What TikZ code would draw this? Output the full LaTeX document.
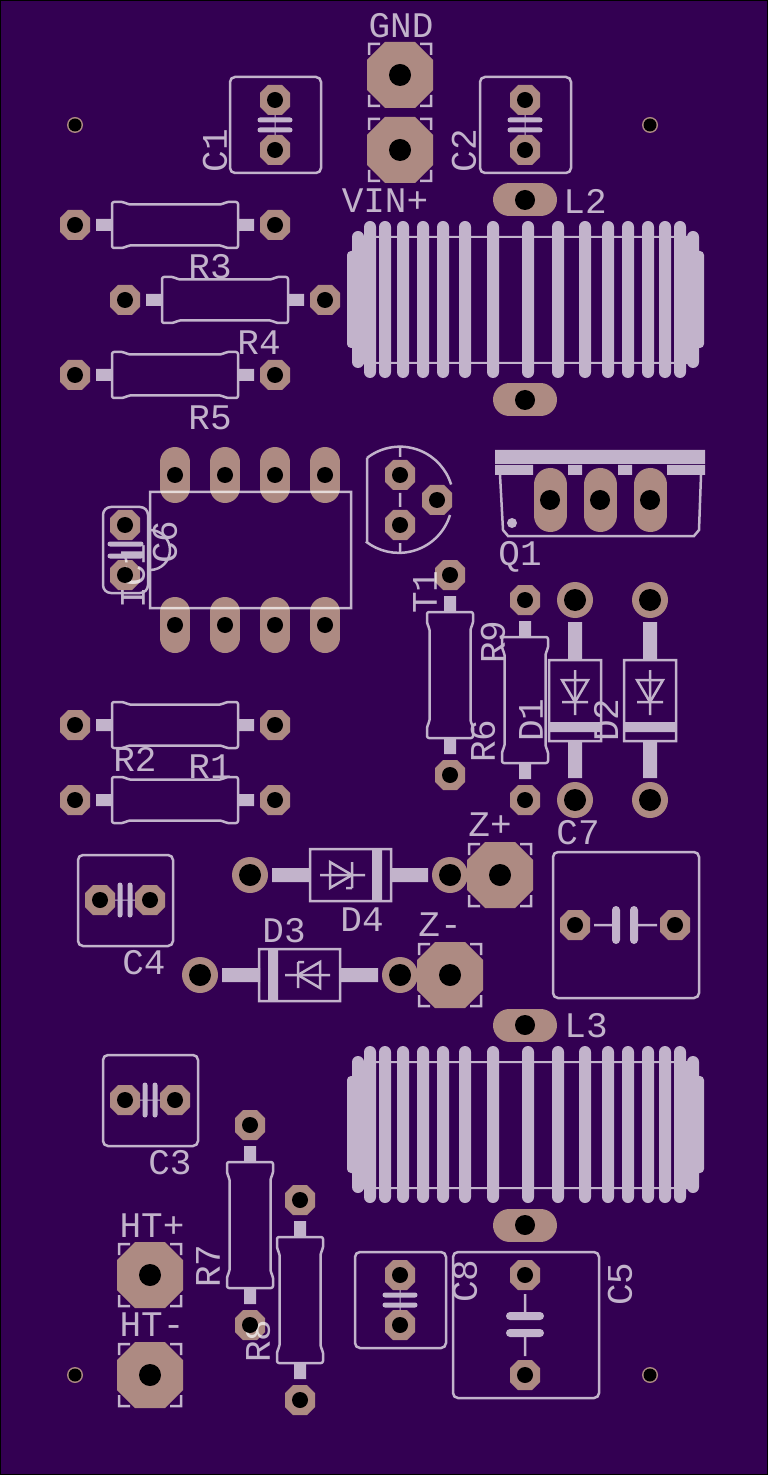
\documentclass[tikz,border=0pt]{standalone}
\usepackage{fontspec}
\setmainfont{Liberation Mono}
\definecolor{pcbboard}{HTML}{330052}
\definecolor{pcbcopper}{HTML}{AD8A82}
\pgfdeclarelayer{drill}
\pgfsetlayers{main,drill}
\tikzset{
  silk/.style={draw=white,line width=1.25pt},
  silkfill/.style={fill=white},
  lead/.style={fill=white},
  plate/.style={draw=white,line width=2.5pt,line cap=round},
  fatplate/.style={draw=white,line width=4pt,line cap=round},
  turn/.style={draw=white,line width=6pt,line cap=round},
  thinlead/.style={draw=white,line width=1.25pt},
  silklabel/.style={text=white,inner sep=0pt,font=\fontsize{18}{18}\selectfont},
  copper/.style={fill=pcbcopper},
  copperslot/.style={draw=pcbcopper,line cap=round},
  hole/.style={fill=black}
}
% pads: copper goes below the silk, the drill above it
\newcommand{\holeat}[3]{\begin{pgfonlayer}{drill}\path[hole] (#1,#2) circle (#3);\end{pgfonlayer}}
\newcommand{\smallpad}[2]{
  \path[copper,shift={(#1,#2)}] (-7,-15) -- (7,-15) -- (15,-7) -- (15,7) -- (7,15) -- (-7,15) -- (-15,7) -- (-15,-7) -- cycle;
  \holeat{#1}{#2}{8}}
\newcommand{\bigpad}[2]{
  \path[copper,shift={(#1,#2)}] (-15,-33) -- (15,-33) -- (33,-15) -- (33,15) -- (15,33) -- (-15,33) -- (-33,15) -- (-33,-15) -- cycle;
  \holeat{#1}{#2}{11}}
\newcommand{\ringpad}[2]{\path[copper] (#1,#2) circle (18); \holeat{#1}{#2}{11}}
\newcommand{\mountpad}[2]{\path[copper] (#1,#2) circle (8); \holeat{#1}{#2}{6.5}}
\newcommand{\icpad}[2]{\path[copperslot,line width=15pt] (#1,#2-13) -- (#1,#2+13); \holeat{#1}{#2}{8}}
\newcommand{\qpad}[2]{\path[copperslot,line width=16.5pt] (#1,#2-15.5) -- (#1,#2+15.5); \holeat{#1}{#2}{10}}
\newcommand{\coilpad}[2]{\path[copperslot,line width=16.5pt] (#1-15.5,#2) -- (#1+15.5,#2); \holeat{#1}{#2}{10}}
% silk parts
\newcommand{\capbox}[4]{\path[silk,rounded corners=2.5pt] (#1,#2) rectangle (#3,#4);}
\newcommand{\bracket}[2]{
  \begin{scope}[shift={(#1,#2)}]
    \path[silk] (-31,-20) -- (-31,-31) -- (-20,-31);
    \path[silk] (20,-31) -- (31,-31) -- (31,-20);
    \path[silk] (-31,20) -- (-31,31) -- (-20,31);
    \path[silk] (20,31) -- (31,31) -- (31,20);
  \end{scope}}
\newcommand{\resistor}[3]{
  \begin{scope}[shift={(#1,#2)},rotate=#3]
    \path[lead] (-79,-6) rectangle (-63,6);
    \path[lead] (63,-6) rectangle (79,6);
    \path[silk,line join=round,rounded corners=1pt] (-47,-20.5) -- (-51,-23) -- (-63,-23) -- (-63,23) -- (-51,23) -- (-47,20.5)
      -- (47,20.5) -- (51,23) -- (63,23) -- (63,-23) -- (51,-23) -- (47,-20.5) -- cycle;
  \end{scope}}
\newcommand{\diode}[3]{
  \begin{scope}[shift={(#1,#2)},rotate=#3]
    \path[lead] (-78,-7) rectangle (-40,7);
    \path[lead] (40,-7) rectangle (78,7);
    \path[silk] (-40,-26) rectangle (41,26);
    \path[silkfill] (22,-26) rectangle (32,26);
    \path[silk] (-30,0) -- (15,0);
    \path[silk] (-20,-13) -- (-20,13) -- (2,0) -- cycle;
    \path[silk] (2,-13) -- (2,13);
  \end{scope}}
\newcommand{\coil}[1]{
  \begin{scope}[shift={(0,#1)}]
    \path[silk,line width=1pt] (358,237) rectangle (687,363);
    \path[turn] (370,227) -- (370,372) (385,227) -- (385,372) (403,227) -- (403,372) (423,227) -- (423,372)
      (443,227) -- (443,372) (465,227) -- (465,372) (493,227) -- (493,372) (528,227) -- (528,372)
      (558,227) -- (558,372) (585,227) -- (585,372) (608,227) -- (608,372) (628,227) -- (628,372)
      (648,227) -- (648,372) (665,227) -- (665,372) (680,227) -- (680,372);
    \path[turn] (358,237) -- (358,362) (693,237) -- (693,362);
    \path[silkfill,rounded corners=2pt] (347,251) rectangle (359,348);
    \path[silkfill,rounded corners=2pt] (692,251) rectangle (704,348);
  \end{scope}}
\begin{document}
\begin{tikzpicture}[x=0.5pt,y=-0.5pt]
  \useasboundingbox (0,0) rectangle (768,1475);
  \path[fill=pcbboard,draw=black,line width=0.5pt] (0.5,0.5) rectangle (767.5,1474.5);

  % mounting holes
  \mountpad{75}{125} \mountpad{650}{125} \mountpad{75}{1375} \mountpad{650}{1375}

  % connectors
  \bigpad{400}{75} \bigpad{400}{150}
  \bigpad{500}{875} \bigpad{450}{975}
  \bigpad{150}{1275} \bigpad{150}{1375}

  % capacitors and resistors
  \smallpad{275}{100} \smallpad{275}{150}
  \smallpad{525}{100} \smallpad{525}{150}
  \smallpad{75}{225} \smallpad{275}{225}
  \smallpad{125}{300} \smallpad{325}{300}
  \smallpad{75}{375} \smallpad{275}{375}
  \smallpad{125}{525} \smallpad{125}{575}
  \smallpad{75}{725} \smallpad{275}{725}
  \smallpad{75}{800} \smallpad{275}{800}
  \smallpad{450}{575} \smallpad{450}{775}
  \smallpad{525}{600} \smallpad{525}{800}
  \smallpad{100}{900} \smallpad{150}{900}
  \smallpad{125}{1100} \smallpad{175}{1100}
  \smallpad{575}{925} \smallpad{675}{925}
  \smallpad{400}{1275} \smallpad{400}{1325}
  \smallpad{525}{1275} \smallpad{525}{1375}
  \smallpad{250}{1125} \smallpad{250}{1325}
  \smallpad{300}{1200} \smallpad{300}{1400}

  % T1
  \smallpad{400}{475} \smallpad{437}{500} \smallpad{400}{525}

  % diodes
  \ringpad{575}{600} \ringpad{575}{800}
  \ringpad{650}{600} \ringpad{650}{800}
  \ringpad{250}{875} \ringpad{450}{875}
  \ringpad{200}{975} \ringpad{400}{975}

  % IC1
  \icpad{175}{475} \icpad{225}{475} \icpad{275}{475} \icpad{325}{475}
  \icpad{175}{625} \icpad{225}{625} \icpad{275}{625} \icpad{325}{625}

  % Q1
  \qpad{550}{500} \qpad{600}{500} \qpad{650}{500}

  % coils
  \coilpad{525}{200} \coilpad{525}{400}
  \coilpad{525}{1025} \coilpad{525}{1225}

  \begin{scope}[transparency group,opacity=.7]
    \bracket{400}{75} \bracket{400}{150}
    \bracket{500}{875} \bracket{450}{975}
    \bracket{150}{1275} \bracket{150}{1375}

    % C1, C2
    \capbox{230}{77}{321}{173}
    \path[plate] (260,120) -- (290,120) (260,130) -- (290,130);
    \path[silk,line width=.5pt] (275,115) -- (275,135);
    \capbox{480}{77}{571}{173}
    \path[plate] (510,120) -- (540,120) (510,130) -- (540,130);
    \path[silk,line width=.5pt] (525,115) -- (525,135);

    % C4, C3
    \capbox{78}{855}{173}{946}
    \path[plate] (120,885) -- (120,915) (130,885) -- (130,915);
    \path[silk,line width=.5pt] (115,900) -- (135,900);
    \capbox{103}{1055}{198}{1146}
    \path[plate] (145,1085) -- (145,1115) (155,1085) -- (155,1115);
    \path[silk,line width=.5pt] (140,1100) -- (160,1100);

    % C8, C6
    \capbox{355}{1252}{446}{1348}
    \path[plate] (385,1295) -- (415,1295) (385,1305) -- (415,1305);
    \path[silk,line width=.5pt] (400,1290) -- (400,1310);
    \path[silk,rounded corners=4pt] (103,507) rectangle (148,593);
    \path[plate] (110,544) -- (141,544) (110,556) -- (141,556);

    % C7, C5
    \capbox{553}{852}{699}{998}
    \path[fatplate] (616,910) -- (616,940) (634,910) -- (634,940);
    \path[thinlead] (594,925) -- (616,925) (634,925) -- (657,925);
    \capbox{453}{1252}{599}{1398}
    \path[fatplate] (510,1316) -- (540,1316) (510,1333) -- (540,1333);
    \path[thinlead] (525,1294) -- (525,1316) (525,1333) -- (525,1356);

    % resistors
    \resistor{175}{225}{0}
    \resistor{225}{300}{0}
    \resistor{175}{375}{0}
    \resistor{175}{725}{0}
    \resistor{175}{800}{0}
    \resistor{450}{675}{90}
    \resistor{525}{700}{90}
    \resistor{250}{1225}{90}
    \resistor{300}{1300}{90}

    % diodes
    \diode{575}{700}{-90}
    \diode{650}{700}{-90}
    \diode{350}{875}{0}
    \path[silk] (352,888) -- (346,888);
    \diode{300}{975}{180}
    \path[silk] (298,962) -- (304,962);

    % IC1 outline
    \path[silk] (150,492) rectangle (351,608);
    \path[silk] (150,530) arc (-90:90:20);

    % T1 outline
    \path[silk] (367,458) arc (-128:-17:53.5);
    \path[silk] (450,515) arc (17:128:53.5);
    \path[silk] (367,458) -- (367,542);
    \path[silk] (400,447) -- (400,457) (400,493) -- (400,507) (400,543) -- (400,553);

    % Q1 outline
    \path[silkfill] (495,450) rectangle (705,464);
    \path[silkfill] (495,465) rectangle (533,475);
    \path[silkfill] (568,465) rectangle (582,475);
    \path[silkfill] (618,465) rectangle (632,475);
    \path[silkfill] (667,465) rectangle (705,475);
    \path[silk] (500,475) -- (503,530) -- (508,536) -- (694,536) -- (699,530) -- (701,475);
    \path[silkfill] (512,523) circle (5);

    % L2, L3
    \coil{0}
    \coil{825}

    % labels
    \node[silklabel] (gndlabel) at (401,26) {GND};
    \node[silklabel] (vinlabel) at (385,201) {VIN+};
    \node[silklabel] (ltwolabel) at (585,201) {L2};
    \node[silklabel] (rthreelabel) at (210,267) {R3};
    \node[silklabel] (rfourlabel) at (259,343) {R4};
    \node[silklabel] (rfivelabel) at (210,418) {R5};
    \node[silklabel] (qonelabel) at (520,557) {Q1};
    \node[silklabel] (rtwolabel) at (135,759) {R2};
    \node[silklabel] (ronelabel) at (210,767) {R1};
    \node[silklabel] (zpluslabel) at (490,825) {Z+};
    \node[silklabel] (csevenlabel) at (578,833) {C7};
    \node[silklabel] (dfourlabel) at (362,920) {D4};
    \node[silklabel] (dthreelabel) at (284,931) {D3};
    \node[silklabel] (zminuslabel) at (440,925) {Z-};
    \node[silklabel] (cfourlabel) at (144,963) {C4};
    \node[silklabel] (lthreelabel) at (586,1026) {L3};
    \node[silklabel] (cthreelabel) at (170,1163) {C3};
    \node[silklabel] (htpluslabel) at (152,1226) {HT+};
    \node[silklabel] (htminuslabel) at (152,1325) {HT-};

    \node[silklabel,rotate=90] (conelabel) at (215,151) {C1};
    \node[silklabel,rotate=90] (ctwolabel) at (464,151) {C2};
    \node[silklabel,rotate=90] (csixlabel) at (165,542) {C6};
    \node[silklabel,rotate=90] (iconelabel) at (133,576) {IC1};
    \node[silklabel,rotate=90] (tonelabel) at (425,592) {T1};
    \node[silklabel,rotate=90] (rninelabel) at (493,642) {R9};
    \node[silklabel,rotate=90] (rsixlabel) at (483,741) {R6};
    \node[silklabel,rotate=90] (donelabel) at (531,720) {D1};
    \node[silklabel,rotate=90] (dtwolabel) at (606,720) {D2};
    \node[silklabel,rotate=90] (rsevenlabel) at (208,1266) {R7};
    \node[silklabel,rotate=90] (reightlabel) at (258,1341) {R8};
    \node[silklabel,rotate=90] (ceightlabel) at (465,1281) {C8};
    \node[silklabel,rotate=90] (cfivelabel) at (620,1284) {C5};
  \end{scope}
\end{tikzpicture}
\end{document}
